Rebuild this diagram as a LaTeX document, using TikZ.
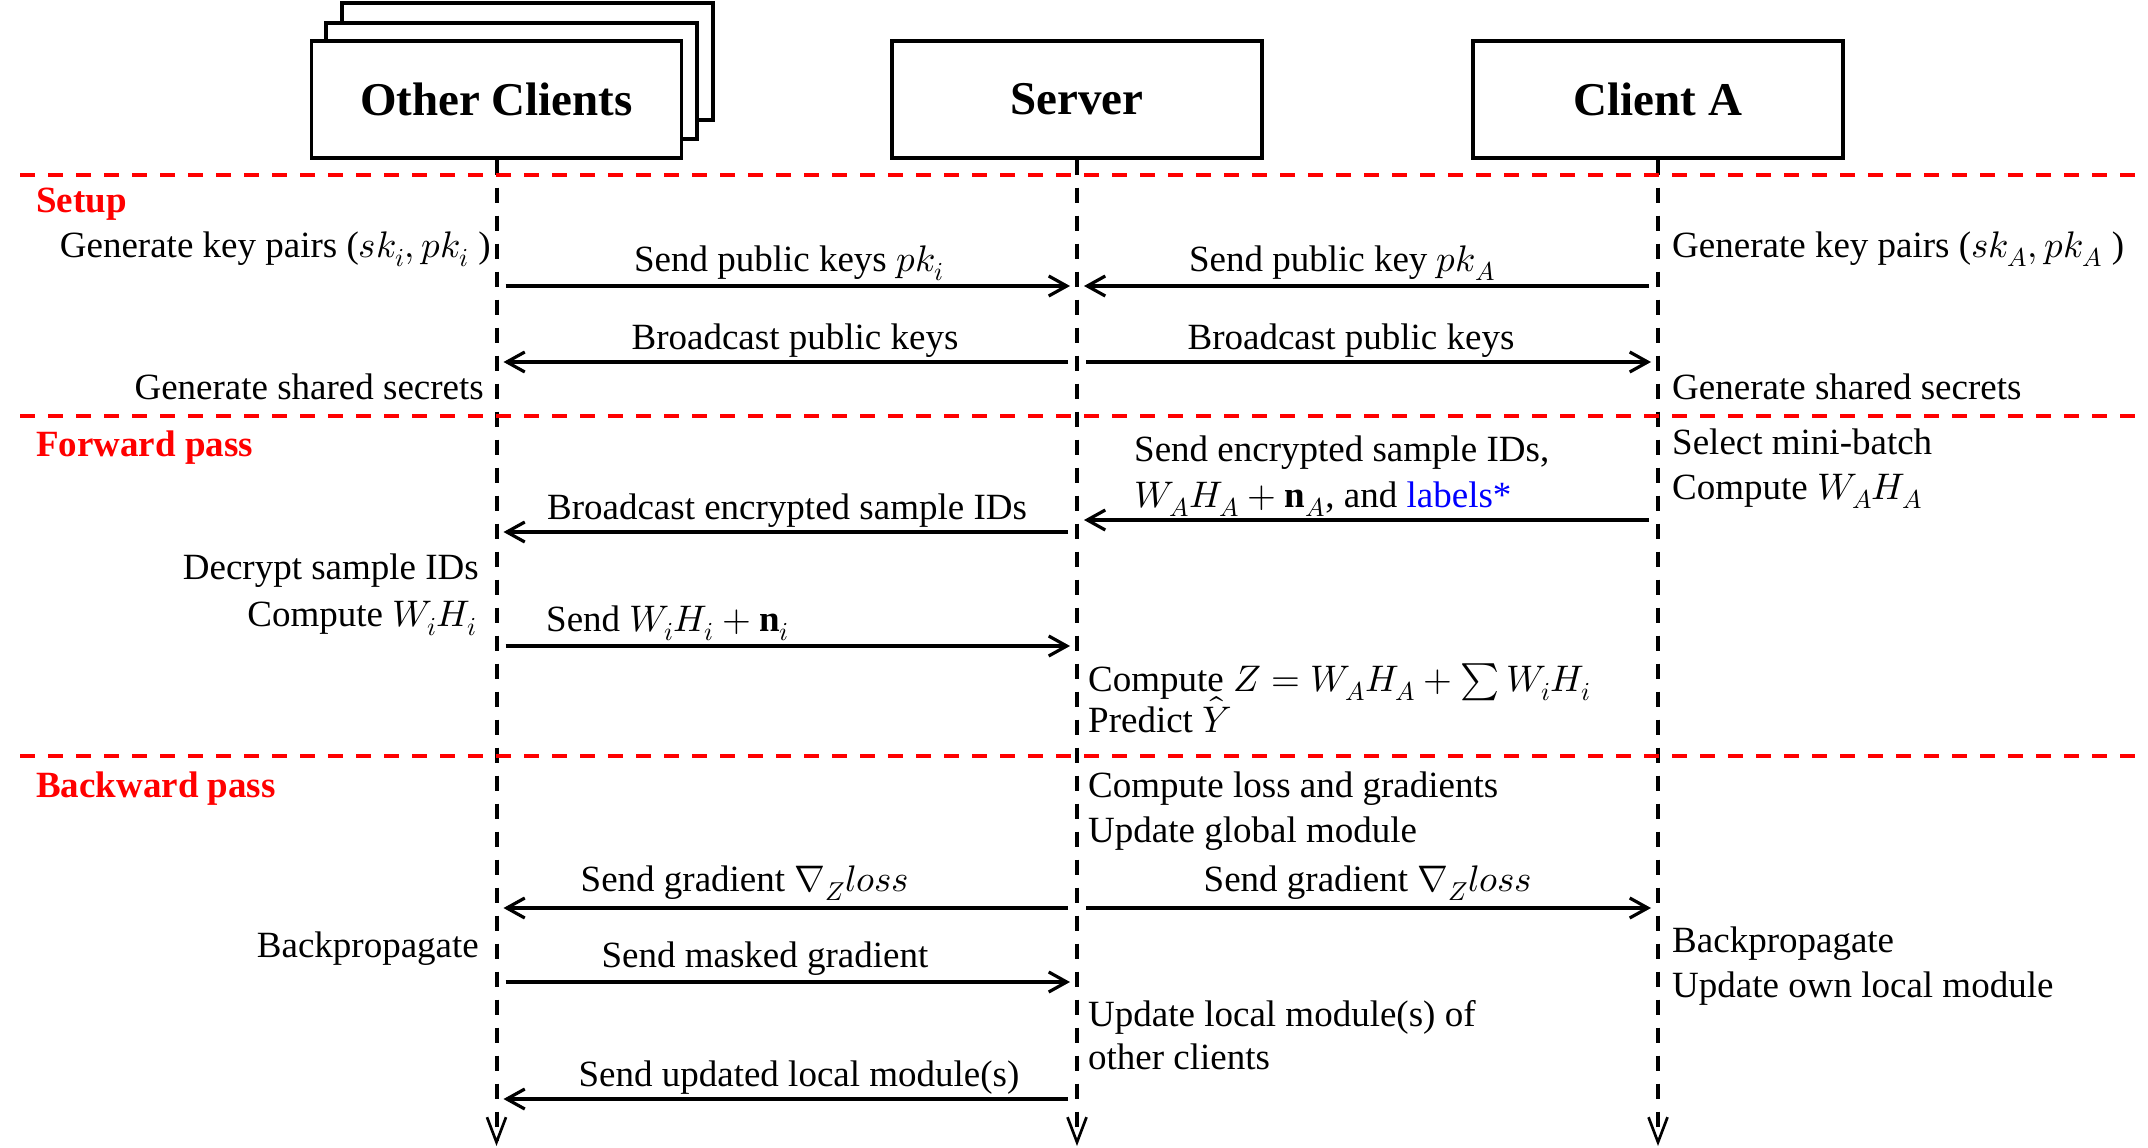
\documentclass[tikz,border=0pt]{standalone}
\usepackage{fontspec}
\usepackage{unicode-math}
\setmainfont{Liberation Serif}
\usetikzlibrary{arrows.meta}
\begin{document}
\begin{tikzpicture}[x=1pt,y=-1pt,
 actor/.style={draw, line width=3.3pt, fill=white, minimum width=370pt, minimum height=117pt, inner sep=0pt, font=\fontsize{47}{56}\selectfont\bfseries},
 backbox/.style={draw, line width=3.3pt, fill=white},
 life/.style={line width=4pt, dash pattern=on 15pt off 13pt},
 lifeend/.style={-{Straight Barb[length=25pt,width=19pt,line width=2.7pt]}},
 sep/.style={red, line width=4pt, dash pattern=on 15pt off 13pt},
 msg/.style={line width=3.2pt, -{Straight Barb[length=18pt,width=20pt]}, shorten <=9pt, shorten >=7pt},
 txt/.style={font=\fontsize{37}{44}\selectfont, inner sep=0pt, text height=26pt, text depth=8pt},
 phase/.style={txt, text=red, font=\fontsize{37}{44}\selectfont\bfseries, anchor=west},
 lt/.style={txt, anchor=east},
 rt/.style={txt, anchor=west},
]
\useasboundingbox (0,0) rectangle (2148,1148);
% actor boxes
\draw[backbox] (342,3) rectangle (713,120);
\draw[backbox] (326,23) rectangle (697,139);
\node[actor] (oc) at (496.5,99.5) {Other Clients};
\node[actor] (sv) at (1077,99.5) {Server};
\node[actor] (ca) at (1658,99.5) {Client A};
% lifelines
\coordinate (oend) at (496.5,1146);
\coordinate (send) at (1077,1146);
\coordinate (aend) at (1658,1146);
\draw[life,lifeend] (oc.south) -- (oend);
\draw[life,lifeend] (sv.south) -- (send);
\draw[life,lifeend] (ca.south) -- (aend);
% separators
\draw[sep] (20,175) -- (2142,175);
\draw[sep] (20,416) -- (2142,416);
\draw[sep] (20,756) -- (2142,756);
% phase labels
\node[phase] (p1) at (36,203) {Setup};
\node[phase] (p2) at (36,447) {Forward pass};
\node[phase] (p3) at (36,788) {Backward pass};
% left side texts
\node[lt] (l1) at (491,248) {Generate key pairs ($sk_i,pk_i$ )};
\node[lt] (l2) at (484,390) {Generate shared secrets};
\node[lt] (l3) at (479,570) {Decrypt sample IDs};
\node[lt] (l4) at (477,617) {Compute $W_iH_i$};
\node[lt] (l5) at (479,948) {Backpropagate};
% client A texts
\node[rt] (r1) at (1672,248) {Generate key pairs ($sk_A,pk_A$ )};
\node[rt] (r2) at (1672,390) {Generate shared secrets};
\node[rt] (r3) at (1672,445) {Select mini-batch};
\node[rt] (r4) at (1672,490) {Compute $W_AH_A$};
\node[rt] (r5) at (1672,943) {Backpropagate};
\node[rt] (r6) at (1672,988) {Update own local module};
% server texts
\node[rt] (s1) at (1088,682) {Compute $Z=W_AH_A+\sum W_iH_i$};
\node[rt] (s2) at (1088,723) {Predict $\hat{Y}$};
\node[rt] (s3) at (1088,788) {Compute loss and gradients};
\node[rt] (s4) at (1088,833) {Update global module};
\node[rt] (s5) at (1088,1017) {Update local module(s) of};
\node[rt] (s6) at (1088,1060) {other clients};
% message endpoints
\coordinate (O1) at (496.5,286); \coordinate (S1) at (1077,286); \coordinate (A1) at (1658,286);
\coordinate (O2) at (496.5,362); \coordinate (S2) at (1077,362); \coordinate (A2) at (1658,362);
\coordinate (S3) at (1077,520); \coordinate (A3) at (1658,520);
\coordinate (O4) at (496.5,532); \coordinate (S4) at (1077,532);
\coordinate (O5) at (496.5,646); \coordinate (S5) at (1077,646);
\coordinate (O6) at (496.5,908); \coordinate (S6) at (1077,908); \coordinate (A6) at (1658,908);
\coordinate (O7) at (496.5,982); \coordinate (S7) at (1077,982);
\coordinate (O8) at (496.5,1099); \coordinate (S8) at (1077,1099);
% messages
\draw[msg] (O1) -- (S1);
\draw[msg] (A1) -- (S1);
\draw[msg] (S2) -- (O2);
\draw[msg] (S2) -- (A2);
\draw[msg] (A3) -- (S3);
\draw[msg] (S4) -- (O4);
\draw[msg] (O5) -- (S5);
\draw[msg] (S6) -- (O6);
\draw[msg] (S6) -- (A6);
\draw[msg] (O7) -- (S7);
\draw[msg] (S8) -- (O8);
% message labels
\node[txt] (m1) at (789,262) {Send public keys $pk_i$};
\node[txt] (m2) at (1342,262) {Send public key $pk_A$};
\node[txt] (m3) at (795,340) {Broadcast public keys};
\node[txt] (m4) at (1351,340) {Broadcast public keys};
\node[rt] (m5a) at (1134,452) {Send encrypted sample IDs,};
\node[rt] (m5b) at (1134,498) {$W_AH_A+\mathbf{n}_A$, and \textcolor{blue}{labels*}};
\node[txt] (m6) at (787,510) {Broadcast encrypted sample IDs};
\node[rt] (m7) at (546,622) {Send $W_iH_i+\mathbf{n}_i$};
\node[txt] (m8) at (745,882) {Send gradient $\nabla_Z loss$};
\node[txt] (m9) at (1368,882) {Send gradient $\nabla_Z loss$};
\node[txt] (m10) at (765,958) {Send masked gradient};
\node[txt] (m11) at (799,1077) {Send updated local module(s)};
\end{tikzpicture}
\end{document}
